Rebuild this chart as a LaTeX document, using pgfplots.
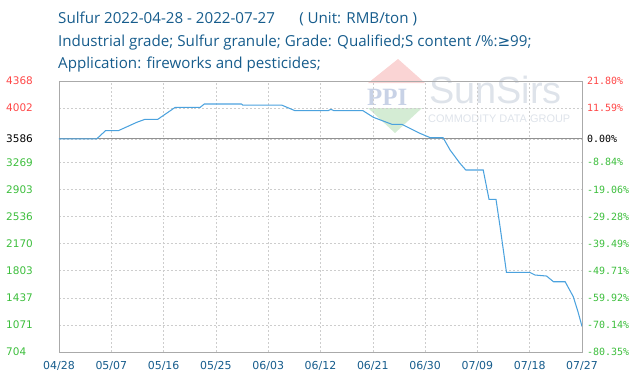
\documentclass[border=0pt]{standalone}
\usepackage{pgfplots}
\pgfplotsset{compat=1.18}
\usepackage{fontspec}
\setmainfont{Open Sans}
\newfontfamily\dv{DejaVu Sans}
\newfontfamily\dvm{DejaVu Sans Mono}
\newfontfamily\lserif{Liberation Serif}
\newfontfamily\lsans{Liberation Sans}
\definecolor{titleblue}{RGB}{22,92,140}
\definecolor{lblred}{RGB}{255,70,70}
\definecolor{lblgreen}{RGB}{60,190,60}
\definecolor{linecol}{RGB}{75,162,222}
\definecolor{gridc}{RGB}{205,205,205}
\definecolor{framec}{RGB}{170,170,170}
\definecolor{wmgray}{RGB}{222,227,234}
\definecolor{wmblue}{RGB}{200,210,230}
\definecolor{wmred}{RGB}{250,212,212}
\definecolor{wmgreen}{RGB}{212,236,212}
\begin{document}
\begin{tikzpicture}[x=1bp,y=1bp]
\useasboundingbox (-59,-34) rectangle (581,352);
% watermark
\fill[wmred] (309,269) -- (366,269) -- (339,293) -- cycle;
\fill[wmgreen] (309,244) -- (363,244) -- (336,219) -- cycle;
\node[anchor=base west, inner sep=0, text=wmblue, font=\lserif\fontsize{25}{25}\selectfont\bfseries] at (308,247) {PPI};
\node[anchor=base west, inner sep=0, text=wmgray, font=\lsans\fontsize{38}{38}\selectfont] at (370,249) {SunSirs};
\node[anchor=base west, inner sep=0, text=wmgray, font=\lsans\fontsize{11}{11}\selectfont] at (369,230) {COMMODITY DATA GROUP};
% titles
\node[anchor=base west, inner sep=0, text=titleblue, font=\fontsize{15.2}{15.2}\selectfont] at (-1,328.5) {Sulfur 2022-04-28 - 2022-07-27\hspace{1.6em}( Unit: RMB/ton )};
\node[anchor=base west, inner sep=0, text=titleblue, font=\fontsize{15.2}{15.2}\selectfont] at (-1,306) {Industrial grade; Sulfur granule; Grade: Qualified;S content /\%:{\dv ≥}99;};
\node[anchor=base west, inner sep=0, text=titleblue, font=\fontsize{15.2}{15.2}\selectfont] at (-1,283.5) {Application: fireworks and pesticides;};
\begin{axis}[
  at={(0,0)}, anchor=south west,
  scale only axis, width=523bp, height=271bp,
  xmin=0, xmax=90, ymin=704, ymax=4368,
  axis line style={framec},
  major tick length=0pt,
  xtick={0,9,...,90},
  xticklabels={04/28,05/07,05/16,05/25,06/03,06/12,06/21,06/30,07/09,07/18,07/27},
  xticklabel style={font=\dv\fontsize{11}{11}\selectfont, text=titleblue, yshift=-6bp},
  ytick={704,1070.4,1436.8,1803.2,2169.6,2536,2902.4,3268.8,3586,4001.6,4368},
  yticklabels={\textcolor{lblgreen}{704},\textcolor{lblgreen}{1071},\textcolor{lblgreen}{1437},\textcolor{lblgreen}{1803},\textcolor{lblgreen}{2170},\textcolor{lblgreen}{2536},\textcolor{lblgreen}{2903},\textcolor{lblgreen}{3269},\textcolor{black}{3586},\textcolor{lblred}{4002},\textcolor{lblred}{4368}},
  yticklabel style={font=\dv\fontsize{10.5}{10.5}\selectfont, anchor=west, inner sep=0pt, xshift=-53bp},
  grid=major,
  major grid style={gridc, dash pattern=on 2pt off 2pt, line width=0.6pt},
]
\addplot[framec!85!black, line width=0.8pt, forget plot] coordinates {(0,3586) (90,3586)};
\addplot[linecol, line width=1.05pt, mark=none] coordinates {
(0,3586) (6.5,3586) (8,3696) (10.2,3696) (13.4,3810) (14.8,3850) (17,3850)
(20,4012) (24.3,4012) (25,4057) (31.4,4057) (31.6,4043) (38.3,4043)
(40.6,3967) (46.3,3967) (46.8,3985) (47.3,3967) (52.3,3967) (54.1,3877)
(57.3,3782) (59,3782) (62.1,3661) (63.9,3601) (66.1,3601) (67.3,3435)
(69,3255) (70,3165) (73,3165) (74,2768) (75.2,2768) (75.9,2398) (77,1781)
(81,1781) (81.9,1745) (83.9,1731) (85.1,1654) (87.1,1654) (88.5,1452)
(89.3,1250) (90,1050)
};
\end{axis}
\begin{axis}[
  at={(0,0)}, anchor=south west,
  scale only axis, width=523bp, height=271bp,
  xmin=0, xmax=90, ymin=704, ymax=4368,
  axis x line=none, axis y line*=right,
  axis line style={framec},
  major tick length=0pt,
  ytick={704,1070.4,1436.8,1803.2,2169.6,2536,2902.4,3268.8,3586,4001.6,4368},
  yticklabels={\textcolor{lblgreen}{-80.35\%},\textcolor{lblgreen}{-70.14\%},\textcolor{lblgreen}{-59.92\%},\textcolor{lblgreen}{-49.71\%},\textcolor{lblgreen}{-39.49\%},\textcolor{lblgreen}{-29.28\%},\textcolor{lblgreen}{-19.06\%},\textcolor{lblgreen}{-8.84\%},\textcolor{black}{0.00\%},\textcolor{lblred}{11.59\%},\textcolor{lblred}{21.80\%}},
  yticklabel style={font=\dvm\fontsize{10}{10}\selectfont, anchor=west, inner sep=0pt, xshift=5bp},
]
\addplot[draw=none, forget plot] coordinates {(0,704) (90,4368)};
\end{axis}
\end{tikzpicture}
\end{document}
